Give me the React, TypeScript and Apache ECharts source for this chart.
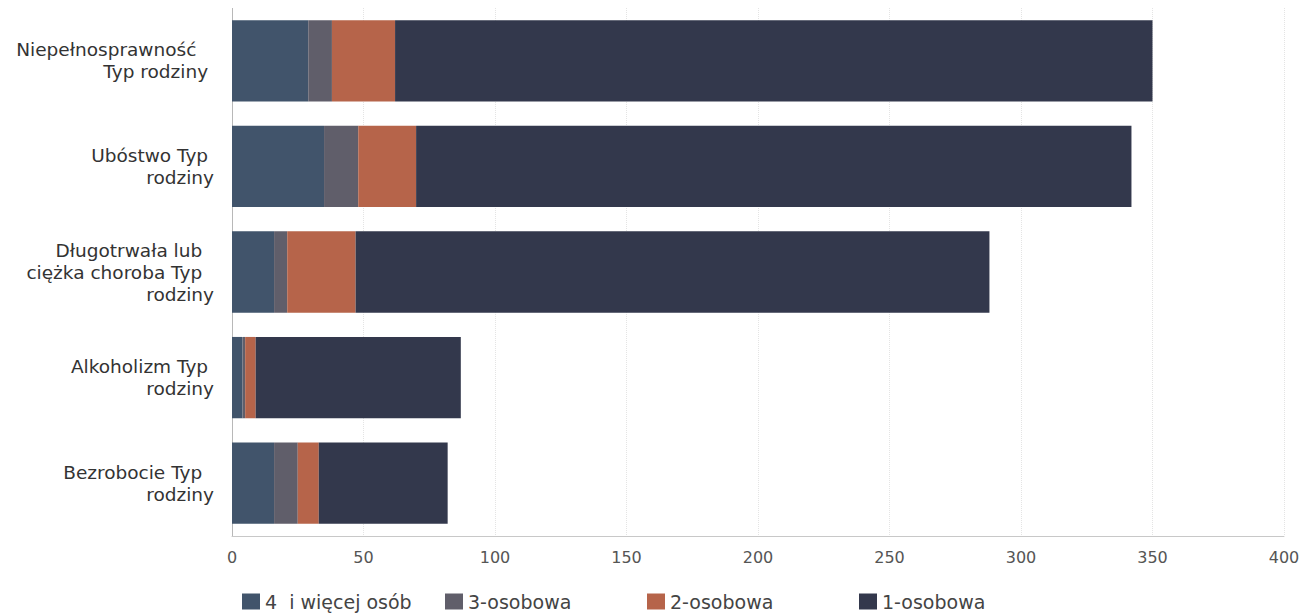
import React, { useEffect, useRef } from "react";
import * as echarts from "echarts";

const categories = [
  "Niepełnosprawność   \nTyp rodziny ",
  "Ubóstwo Typ \nrodziny",
  "Długotrwała lub  \nciężka choroba Typ  \nrodziny",
  "Alkoholizm Typ \nrodziny",
  "Bezrobocie Typ  \nrodziny",
];
const seriesNames = ["4  i więcej osób", "3-osobowa", "2-osobowa", "1-osobowa"];
const fourPlus = [29, 35, 16, 4, 16];
const three = [9, 13, 5, 1, 9];
const two = [24, 22, 26, 4, 8];
const one = [288, 272, 241, 78, 49];
const xTicks = [0, 50, 100, 150, 200, 250, 300, 350, 400];
const colors = ["#41546b", "#605e6a", "#b6644a", "#33384c"];

export default function App() {
  const ref = useRef<HTMLDivElement>(null);
  useEffect(() => {
    if (!ref.current) return;
    const chart = echarts.init(ref.current, null, { renderer: "svg" });
    const values = [fourPlus, three, two, one];
    const legendLefts = [242, 445, 647, 859];
    chart.setOption({
      animation: false,
      textStyle: { fontFamily: "DejaVu Sans" },
      grid: { left: 232, right: 32, top: 8, bottom: 80, containLabel: false },
      legend: seriesNames.map((n, i) => ({
        data: [n],
        left: legendLefts[i],
        top: 592,
        padding: 0,
        itemWidth: 18,
        itemHeight: 16,
        itemGap: 8,
        icon: "rect",
        textStyle: { fontSize: 19, color: "#444", fontFamily: "DejaVu Sans", padding: [0, 0, 0, 0] },
      })),
      xAxis: {
        type: "value",
        min: xTicks[0],
        max: xTicks[xTicks.length - 1],
        interval: 50,
        axisLine: { show: true, lineStyle: { color: "#c8c8c8" } },
        axisTick: { show: false },
        axisLabel: { fontSize: 16, color: "#555", margin: 13, fontFamily: "DejaVu Sans" },
        splitLine: { show: true, lineStyle: { color: "#e4e4e4", type: "dotted" } },
      },
      yAxis: {
        type: "category",
        data: categories,
        inverse: true,
        axisLine: { show: true, lineStyle: { color: "#b8b8b8" } },
        axisTick: { show: false },
        axisLabel: { fontSize: 18.5, color: "#333", margin: 18, lineHeight: 22, align: "right", fontFamily: "DejaVu Sans" },
      },
      series: seriesNames.map((n, i) => ({
        name: n,
        type: "bar",
        stack: "total",
        data: values[i],
        barWidth: "77%",
        itemStyle: { color: colors[i] },
      })),
    });
    return () => chart.dispose();
  }, []);
  return <div ref={ref} style={{ width: 1316, height: 616, marginTop: -8, marginLeft: -8 }} />;
}
